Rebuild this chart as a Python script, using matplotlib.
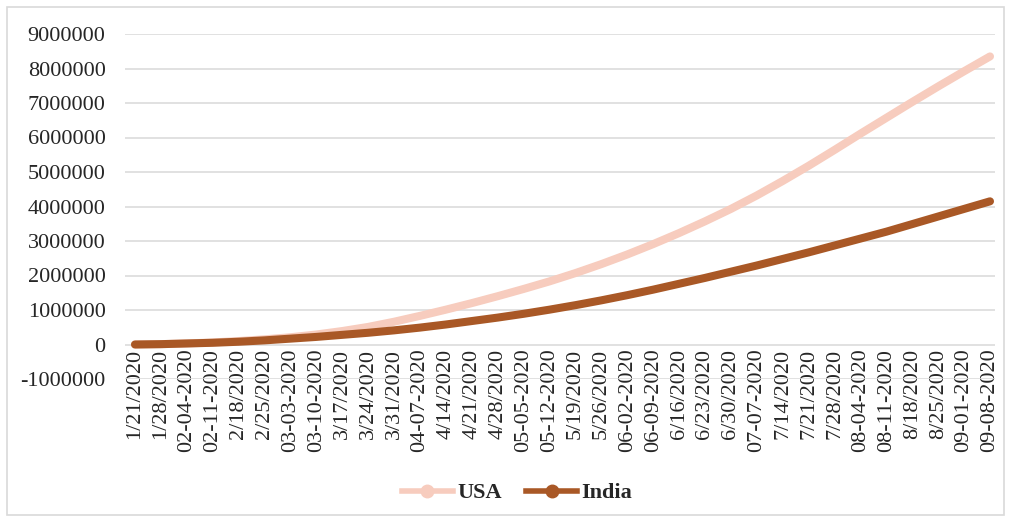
import numpy as np
import matplotlib.pyplot as plt
from matplotlib.lines import Line2D
from matplotlib.patches import Rectangle
from matplotlib.ticker import FuncFormatter

# weekly dates shown on the category axis
dates = ['1/21/2020', '1/28/2020', '02-04-2020', '02-11-2020', '2/18/2020', '2/25/2020',
         '03-03-2020', '03-10-2020', '3/17/2020', '3/24/2020', '3/31/2020', '04-07-2020',
         '4/14/2020', '4/21/2020', '4/28/2020', '05-05-2020', '05-12-2020', '5/19/2020',
         '5/26/2020', '06-02-2020', '06-09-2020', '6/16/2020', '6/23/2020', '6/30/2020',
         '07-07-2020', '7/14/2020', '7/21/2020', '7/28/2020', '08-04-2020', '08-11-2020',
         '8/18/2020', '8/25/2020', '09-01-2020', '09-08-2020']

# values (millions)
usa = [0.0, 0.01, 0.03, 0.06, 0.10, 0.15, 0.21, 0.29, 0.39, 0.51, 0.66, 0.83,
       1.01, 1.20, 1.40, 1.61, 1.83, 2.07, 2.33, 2.61, 2.91, 3.23, 3.57, 3.93,
       4.32, 4.74, 5.18, 5.64, 6.11, 6.57, 7.03, 7.48, 7.92, 8.35]
india = [0.0, 0.01, 0.03, 0.05, 0.08, 0.12, 0.17, 0.22, 0.28, 0.34, 0.41, 0.49,
         0.58, 0.68, 0.78, 0.89, 1.01, 1.14, 1.28, 1.43, 1.59, 1.76, 1.93, 2.11,
         2.29, 2.48, 2.67, 2.87, 3.07, 3.27, 3.49, 3.71, 3.93, 4.15]

usa_col = '#F7CCBE'
india_col = '#A95826'
txt_col = '#262626'

plt.rcParams['font.family'] = ['Liberation Serif', 'DejaVu Serif']

fig = plt.figure(figsize=(10.11, 5.22), dpi=100)
fig.patches.append(Rectangle((7/1011, 7/522), 997/1011, 508/522, transform=fig.transFigure,
                             fill=False, edgecolor='#D9D9D9', linewidth=1.2))
ax = fig.add_axes([125/1011, 1-379/522, 870/1011, 345/522])

# category axis crosses at 0, like the excel original
for s in ax.spines.values():
    s.set_visible(False)
ax.spines['bottom'].set_position(('data', 0))

x = np.arange(len(dates))
ax.plot(x, np.array(usa)*1e6, color=usa_col, lw=5.8,
        solid_capstyle='round', solid_joinstyle='round', zorder=3)
ax.plot(x, np.array(india)*1e6, color=india_col, lw=5.8,
        solid_capstyle='round', solid_joinstyle='round', zorder=4)

ax.set_ylim(-1000000, 9000000)
ax.set_yticks(np.arange(-1000000, 9000001, 1000000))
ax.yaxis.set_major_formatter(FuncFormatter(lambda v, p: str(int(round(v)))))
ax.set_xlim(-10/25.9, 33 + 5/25.9)
ax.set_xticks(x)
ax.set_xticklabels(dates, rotation=90, va='top', ha='center')

ax.grid(axis='y', color='#D9D9D9', lw=1.1)
ax.set_axisbelow(True)
ax.tick_params(axis='both', length=0, labelsize=16, colors=txt_col)
ax.tick_params(axis='y', pad=14)
ax.tick_params(axis='x', pad=3)

handles = [Line2D([], [], color=usa_col, lw=4, marker='o', ms=9),
           Line2D([], [], color=india_col, lw=4, marker='o', ms=9)]
fig.legend(handles, ['USA', 'India'], loc='center', bbox_to_anchor=(517/1011, 1-493/522),
           ncol=2, frameon=False, handlelength=2.3, handletextpad=0.2, columnspacing=1.1,
           prop={'weight': 'bold', 'size': 16}, labelcolor=txt_col)

fig.savefig('out.png', dpi=100)
